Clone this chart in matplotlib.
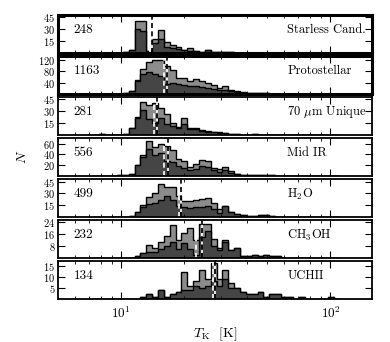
import numpy as np
import matplotlib
matplotlib.use("Agg")
import matplotlib.pyplot as plt
from matplotlib.ticker import LogLocator, NullFormatter, LogFormatterMathtext

plt.rcParams['font.family'] = 'cmr10'
plt.rcParams['mathtext.fontset'] = 'cm'
plt.rcParams['axes.formatter.use_mathtext'] = True

# log-spaced temperature bins (0.028 dex), from ~7.4 K to ~180 K
edges = 10 ** (0.868 + 0.028 * np.arange(43))

# counts per bin: dark = subset, total = full sample (light gray on top)
starless_dark = [0,0,0,0,0,1,4,30,28,2,12,18,7,6,5,4,2,2,1,3,1,1,1,1] + [0]*18
starless_total = [0,0,0,0,0,1,4,40,41,2,18,29,14,10,7,4,6,2,1,4,1,1,1,1] + [0]*18

proto_dark = [0,0,0,0,0,2,8,45,72,78,72,65,35,40,35,30,28,26,25,20,18,14,14,9,6,4,2,1,1,1] + [0]*12
proto_total = [0,0,0,0,0,2,8,50,88,115,120,122,100,85,55,55,46,52,45,38,30,22,26,14,9,5,3,2,1,1] + [0]*12

unique70_dark = [0,1,0,0,0,1,8,21,32,20,15,22,14,11,9,14,7,7,5,4,3,2,2,1,1,0,0,1] + [0]*14
unique70_total = [0,1,0,0,0,1,9,23,42,38,40,34,27,15,10,21,9,8,6,5,3,3,2,1,1,0,0,1] + [0]*14

midir_dark = [0,0,0,0,1,2,3,20,35,50,38,42,28,25,18,14,10,12,18,16,10,7,11,6,3,2,1,1,1,1,1] + [0]*11
midir_total = [0,0,0,0,1,2,3,21,38,64,54,60,55,48,32,28,16,22,30,28,15,12,16,8,3,2,1,1,1,1,1] + [0]*11

h2o_dark = [0]*6 + [1,6,12,16,18,22,26,22,14,12,11,12,13,14,10,5,14,6,3,2,1,1,2,2,1] + [0]*11
h2o_total = [0]*6 + [1,6,15,25,30,42,38,38,26,20,20,21,23,24,18,10,14,6,4,2,1,1,2,2,1] + [0]*11

ch3oh_dark = [0]*7 + [1,3,4,4,6,8,11,6,10,6,2,14,18,8,5,11,5,7,1,1,2,1,2,1,1] + [0]*10
ch3oh_total = [0]*7 + [1,3,9,7,11,15,22,12,17,20,12,23,23,13,7,12,5,7,1,1,2,1,2,1,1] + [0]*10

uchii_dark = [0]*7 + [0,1,2,1,4,1,2,3,4,4,6,5,6,8,6,9,5,5,3,2,2,3,1,2,2,1,1,0,1,0,0,0,0,1,0]
uchii_total = [0]*7 + [0,1,2,1,4,1,2,3,12,6,8,13,9,16,9,13,7,5,3,2,2,3,1,2,2,1,1,0,1,0,0,0,0,1,0]

dark_sets = [starless_dark, proto_dark, unique70_dark, midir_dark, h2o_dark, ch3oh_dark, uchii_dark]
total_sets = [starless_total, proto_total, unique70_total, midir_total, h2o_total, ch3oh_total, uchii_total]

names = ['Starless Cand.', 'Protostellar', r'70 $\mu$m Unique', 'Mid IR',
         r'H$_2$O', r'CH$_3$OH', 'UCHII']
numbers = ['248', '1163', '281', '556', '499', '232', '134']
ymax = [48, 135, 48, 70, 48, 25.5, 17]
yticks = [[15, 30, 45], [40, 80, 120], [15, 30, 45], [20, 40, 60],
          [15, 30, 45], [8, 16, 24], [5, 10, 15]]
# medians (dark subset: white dashed, total: black dashed)
median_dark = [13.75, 16.1, 14.3, 16.1, 19.0, 22.7, 27.4]
median_total = [14.0, 16.5, 14.9, 16.7, 19.3, 24.4, 28.0]

fig, axes = plt.subplots(7, 1, figsize=(3.9, 3.42), dpi=100, sharex=True)
fig.subplots_adjust(left=0.149, right=0.954, top=0.956, bottom=0.126, hspace=0.09)

for k, ax in enumerate(axes):
    ax.stairs(total_sets[k], edges, fill=True, color='0.55')
    ax.stairs(total_sets[k], edges, color='k', lw=1)
    ax.stairs(dark_sets[k], edges, fill=True, color='0.27')
    ax.stairs(dark_sets[k], edges, color='k', lw=1)
    ax.axvline(median_dark[k], color='white', ls=(0, (3, 2)), lw=1.2)
    ax.axvline(median_total[k], color='k', ls=(0, (3, 2)), gapcolor='white', lw=1.2)

    ax.set_xscale('log')
    ax.set_xlim(5, 158)
    ax.set_ylim(0, ymax[k])
    ax.set_yticks(yticks[k])
    ax.tick_params(which='both', direction='in', top=True, right=True, labelsize=7.5)
    ax.tick_params(which='major', length=5, width=0.8, pad=2)
    ax.tick_params(which='minor', length=2.5, width=0.6)
    ax.xaxis.set_minor_locator(LogLocator(base=10, subs=np.arange(2, 10)))
    ax.xaxis.set_minor_formatter(NullFormatter())
    ax.xaxis.set_major_formatter(LogFormatterMathtext())
    for sp in ax.spines.values():
        sp.set_linewidth(2.2 if k < 2 else 1.3)

    ax.text(0.05, 0.6, numbers[k], transform=ax.transAxes, va='center', fontsize=9.5)
    ax.text(0.73, 0.6, names[k], transform=ax.transAxes, va='center', fontsize=9)

axes[-1].tick_params(axis='x', which='major', labelsize=9.5, pad=5)
axes[-1].set_xlabel(r'$T_{\rm K}$  [K]', fontsize=10, labelpad=3)
fig.text(0.058, 0.54, r'$N$', rotation=90, fontsize=10, va='center', ha='center')

fig.savefig('out.png', dpi=100)
